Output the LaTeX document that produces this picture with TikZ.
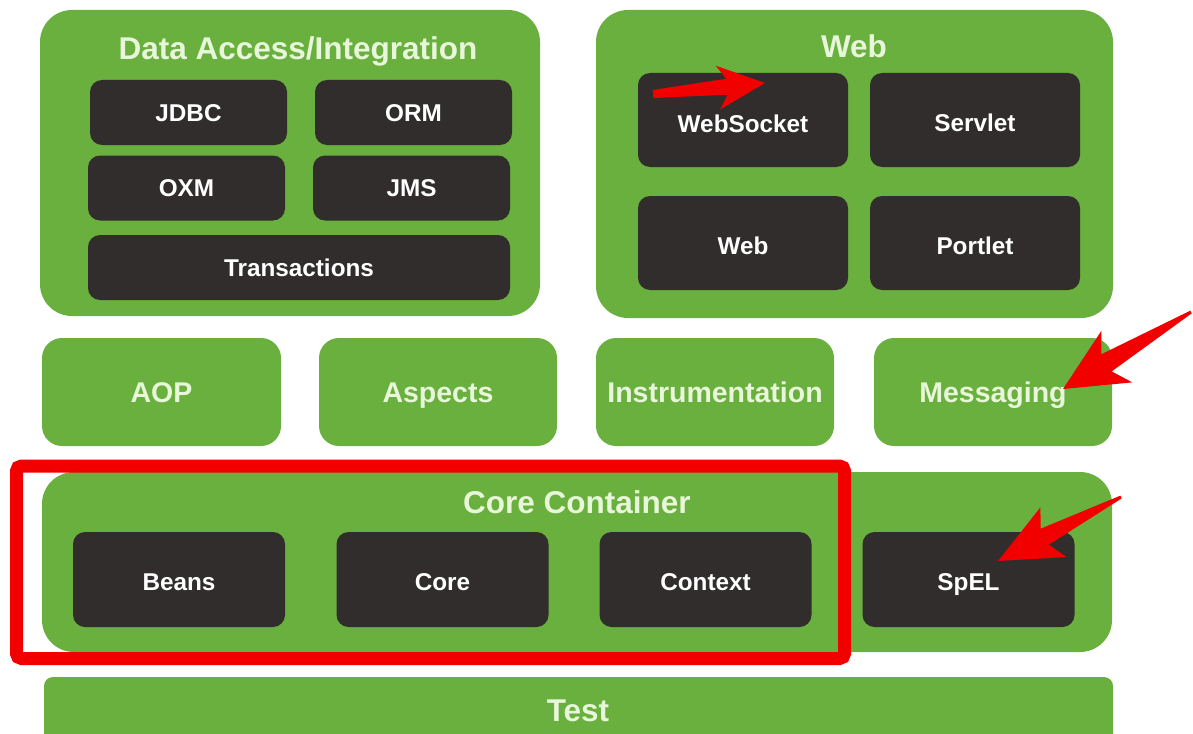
\documentclass[tikz,border=0pt]{standalone}
\usepackage{fontspec}
\setmainfont{Liberation Sans}
\usetikzlibrary{calc}
\definecolor{sgreen}{HTML}{6AB03E}
\definecolor{dbox}{HTML}{312D2D}
\definecolor{ttl}{HTML}{E8F6DA}
\definecolor{ared}{HTML}{F20000}
\tikzset{
  grp/.style={fill=sgreen, draw=none, rounded corners=32pt},
  grptitle/.style={text=ttl, font=\bfseries\fontsize{31.5}{34}\selectfont, inner sep=0pt,
     text height=22.5pt, text depth=0pt},
  darkbox/.style={fill=dbox, draw=none, rounded corners=12pt, text=white,
     font=\bfseries\fontsize{24.3}{27}\selectfont, inner sep=0pt,
     text height=17.4pt, text depth=0pt},
  midbox/.style={fill=sgreen, draw=none, rounded corners=20pt, text=ttl,
     font=\bfseries\fontsize{28.5}{31}\selectfont, inner sep=0pt,
     text height=20.4pt, text depth=0pt},
  hilite/.style={draw=ared, line width=13pt, rounded corners=5pt},
  redarrow/.style={fill=ared, draw=none}
}
\begin{document}
\begin{tikzpicture}[x=1pt,y=-1pt]
\useasboundingbox (0,0) rectangle (1193,733);
\clip (0,0) rectangle (1193,733);
% Data Access / Integration
\node[grp, minimum width=500, minimum height=306] (dai) at (290,163) {};
\node[grptitle] (daititle) at (298,48) {Data Access/Integration};
\node[darkbox, minimum width=197, minimum height=65] (jdbc) at (188.5,112.5) {JDBC};
\node[darkbox, minimum width=197, minimum height=65] (orm) at (413.5,112.5) {ORM};
\node[darkbox, minimum width=197, minimum height=65] (oxm) at (186.5,188) {OXM};
\node[darkbox, minimum width=197, minimum height=65] (jms) at (411.5,188) {JMS};
\node[darkbox, minimum width=422, minimum height=65] (trans) at (299,267.5) {Transactions};
% Web
\node[grp, minimum width=517, minimum height=308] (webgrp) at (854.5,164) {};
\node[grptitle] (webtitle) at (854,46) {Web};
\node[darkbox, minimum width=210, minimum height=94] (websocket) at (743,120) {};
\node[darkbox, fill=none] (websockettext) at (743,124) {WebSocket};
\node[darkbox, minimum width=210, minimum height=94] (servlet) at (975,120) {};
\node[darkbox, fill=none] (servlettext) at (975,123) {Servlet};
\node[darkbox, minimum width=210, minimum height=94] (web) at (743,243) {};
\node[darkbox, fill=none] (webtext) at (743,246) {Web};
\node[darkbox, minimum width=210, minimum height=94] (portlet) at (975,243) {};
\node[darkbox, fill=none] (portlettext) at (975,246) {Portlet};
% middle row
\node[midbox, minimum width=239, minimum height=108] (aop) at (161.5,392) {AOP};
\node[midbox, minimum width=238, minimum height=108] (aspects) at (438,392) {Aspects};
\node[midbox, minimum width=238, minimum height=108] (instr) at (715,392) {Instrumentation};
\node[midbox, minimum width=238, minimum height=108] (msg) at (993,392) {Messaging};
% Core container
\node[grp, minimum width=1070, minimum height=180] (core) at (577,562) {};
\node[grptitle] (coretitle) at (577,502) {Core Container};
\node[darkbox, minimum width=212, minimum height=95] (beans) at (179,579.5) {};
\node[darkbox, fill=none] (beanstext) at (179,582) {Beans};
\node[darkbox, minimum width=212, minimum height=95] (corem) at (442.5,579.5) {};
\node[darkbox, fill=none] (coremtext) at (442.5,582) {Core};
\node[darkbox, minimum width=212, minimum height=95] (context) at (705.5,579.5) {};
\node[darkbox, fill=none] (contexttext) at (705.5,582) {Context};
\node[darkbox, minimum width=212, minimum height=95] (spel) at (968.5,579.5) {};
\node[darkbox, fill=none] (speltext) at (968.5,582) {SpEL};
% Test
\node[fill=sgreen, rounded corners=9pt, minimum width=1069, minimum height=80, inner sep=0pt] (test) at (578.5,717) {};
\node[grptitle] (testlabel) at (578,710) {Test};
% highlight rectangle
\draw[hilite] (16.5,466) rectangle (844.5,658.5);
% red arrows
\coordinate (a1t) at (653,94);
\coordinate (a1h) at (765,83);
\fill[redarrow] ($(a1t)!4pt!90:(a1h)$)
  -- ($(a1t)!0.66!(a1h)!8pt!90:(a1h)$)
  -- ($(a1t)!0.58!(a1h)!22pt!90:(a1h)$)
  -- (a1h)
  -- ($(a1t)!0.58!(a1h)!22pt!-90:(a1h)$)
  -- ($(a1t)!0.66!(a1h)!8pt!-90:(a1h)$)
  -- ($(a1t)!4pt!-90:(a1h)$) -- cycle;
\coordinate (a2t) at (1191,312);
\coordinate (a2h) at (1063,389);
\fill[redarrow] ($(a2t)!1.5pt!90:(a2h)$)
  -- ($(a2t)!0.66!(a2h)!10pt!90:(a2h)$)
  -- ($(a2t)!0.58!(a2h)!30pt!90:(a2h)$)
  -- (a2h)
  -- ($(a2t)!0.58!(a2h)!30pt!-90:(a2h)$)
  -- ($(a2t)!0.66!(a2h)!10pt!-90:(a2h)$)
  -- ($(a2t)!1.5pt!-90:(a2h)$) -- cycle;
\coordinate (a3t) at (1121,497);
\coordinate (a3h) at (998,561);
\fill[redarrow] ($(a3t)!1.5pt!90:(a3h)$)
  -- ($(a3t)!0.62!(a3h)!9pt!90:(a3h)$)
  -- ($(a3t)!0.55!(a3h)!28pt!90:(a3h)$)
  -- (a3h)
  -- ($(a3t)!0.55!(a3h)!28pt!-90:(a3h)$)
  -- ($(a3t)!0.62!(a3h)!9pt!-90:(a3h)$)
  -- ($(a3t)!1.5pt!-90:(a3h)$) -- cycle;
\end{tikzpicture}
\end{document}
